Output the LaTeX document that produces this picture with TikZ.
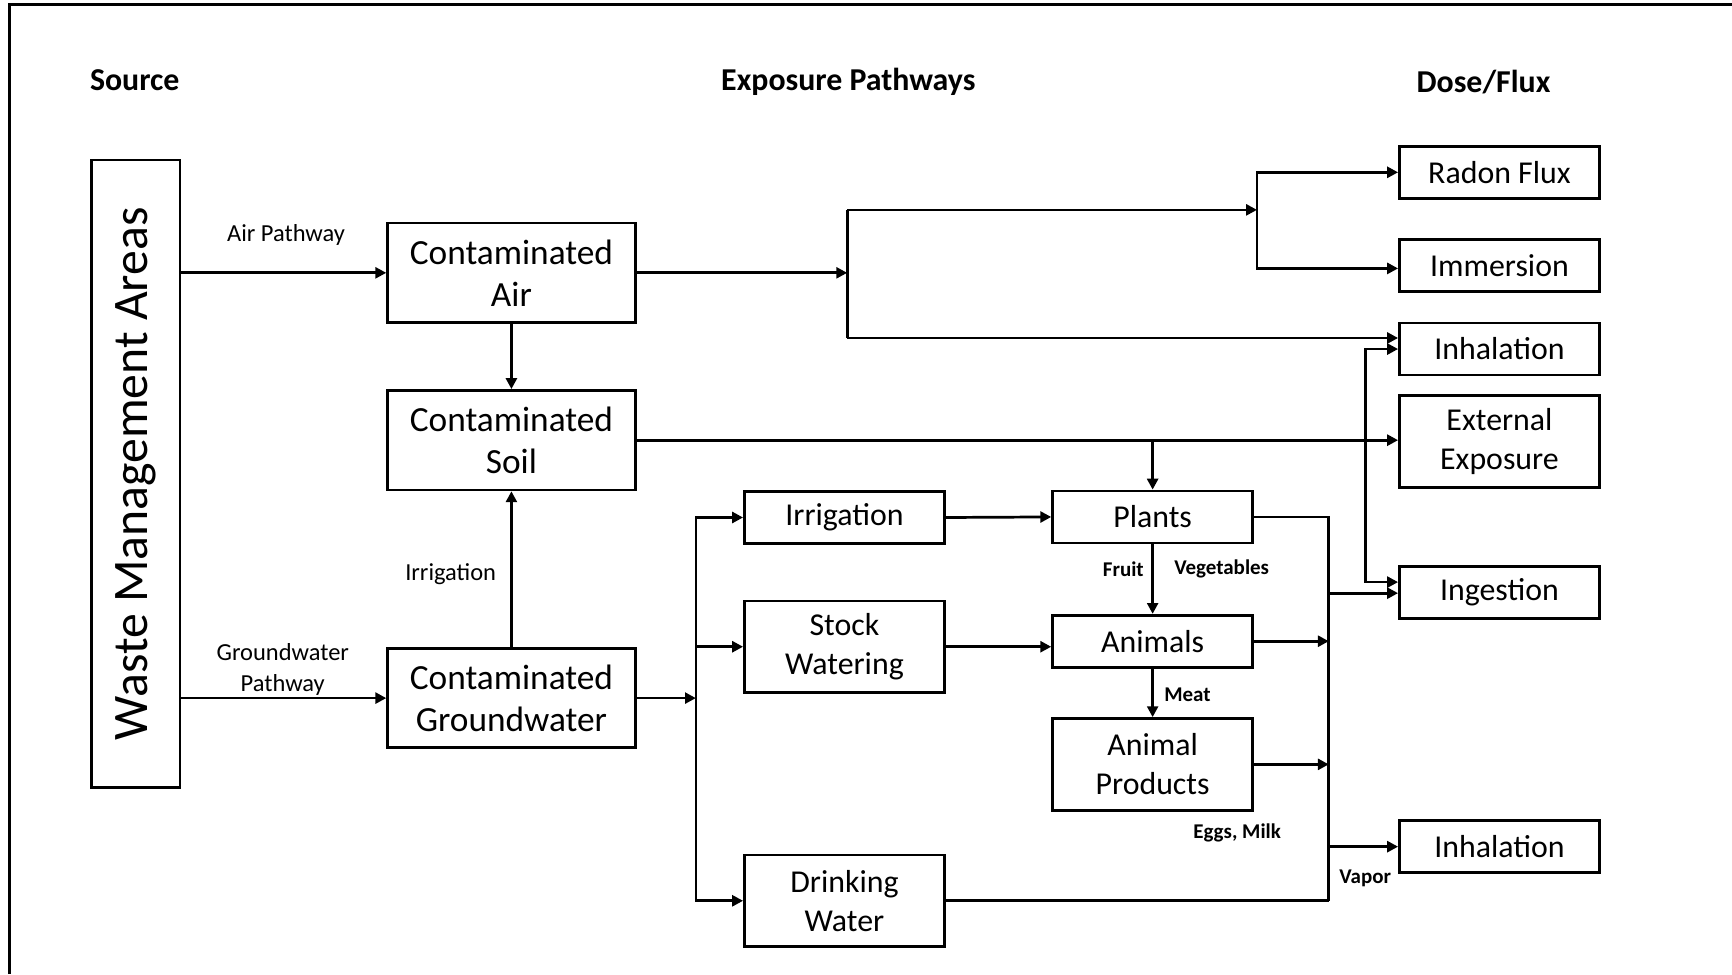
\documentclass[tikz,border=0pt]{standalone}
\usepackage{fontspec}
\setmainfont{Carlito}
\usetikzlibrary{arrows.meta}
\begin{document}
\begin{tikzpicture}[x=0.01cm,y=-0.01cm,
  box/.style={draw,line width=0.7pt,minimum width=1.81cm,minimum height=0.47cm,inner sep=1pt,align=center,font=\fontsize{8.2}{10}\selectfont},
  tallbox/.style={box,minimum height=0.83cm},
  cbox/.style={box,minimum width=2.24cm,minimum height=0.9cm,font=\fontsize{9.1}{10.8}\selectfont},
  head/.style={font=\fontsize{8.2}{10}\selectfont\bfseries},
  lbl/.style={font=\fontsize{6.3}{7.8}\selectfont,align=center,inner sep=0pt},
  blbl/.style={font=\fontsize{5.4}{6.5}\selectfont\bfseries,inner sep=0pt},
  arr/.style={line width=0.7pt,-{Triangle[length=2.8pt,width=2.8pt]}},
  ln/.style={line width=0.7pt}]
\useasboundingbox (0,0) rectangle (1568,882);
\draw[line width=0.8pt] (9,882) -- (9,4) -- (1568,4);
\node[head] (hsrc) at (122,73) {Source};
\node[head] (hpath) at (768,74) {Exposure Pathways};
\node[head] (hdose) at (1343,74) {Dose/Flux};
\node[draw,line width=0.7pt,minimum width=0.8cm,minimum height=5.68cm,inner sep=0pt,font=\fontsize{12.8}{14}\selectfont] (wma) at (123,429) {\rotatebox{90}{Waste Management Areas}};
\node[cbox] (air) at (463,247) {Contaminated\\Air};
\node[cbox] (soil) at (463,398.5) {Contaminated\\Soil};
\node[cbox] (gw) at (463,632) {Contaminated\\Groundwater};
\node[box] (irr) at (764.5,468.5) {Irrigation};
\node[tallbox] (stock) at (764.5,585.5) {Stock\\Watering};
\node[tallbox] (drink) at (764.5,815.5) {Drinking\\Water};
\node[box] (plants) at (1043.5,468) {Plants};
\node[box] (animals) at (1043.5,580.5) {Animals};
\node[tallbox] (prod) at (1043.5,692) {Animal\\Products};
\node[box] (radon) at (1357.5,156) {Radon Flux};
\node[box] (imm) at (1357.5,240.5) {Immersion};
\node[box] (inhal) at (1357.5,316) {Inhalation};
\node[tallbox] (ext) at (1357.5,399.5) {External\\Exposure};
\node[box] (ingest) at (1357.5,536.5) {Ingestion};
\node[box] (inhalb) at (1357.5,766.5) {Inhalation};
\coordinate (ja) at (767,247);
\coordinate (jat) at (767,190);
\coordinate (jab) at (767,306);
\coordinate (jr) at (1138,190);
\coordinate (js) at (1236,399);
\coordinate (jg) at (630,632);
\coordinate (jp) at (1203,537);
\coordinate (jd) at (1203,815.5);
\draw[arr] (wma.east |- air.west) -- (air.west);
\node[lbl] (lair) at (259,213) {Air Pathway};
\draw[arr] (wma.east |- gw.west) -- (gw.west);
\node[lbl] (lgw) at (256,606) {Groundwater\\Pathway};
\draw[arr] (air.south) -- (soil.north);
\draw[arr] (gw.north) -- (soil.south);
\node[lbl] (lirr) at (408,520) {Irrigation};
\draw[arr] (air.east) -- (ja);
\draw[ln] (jat) -- (jab);
\draw[arr] (jat) -- (jr);
\draw[arr] (jr) |- (radon.west);
\draw[arr] (jr) |- ([yshift=-0.025cm]imm.west);
\draw[arr] (jab) -- (jab -| inhal.west);
\draw[arr] (soil.east) -- (soil.east -| ext.west);
\draw[arr] (plants.north |- soil.east) -- (plants.north);
\draw[arr] (js) |- (inhal.west);
\draw[arr] (js) |- ([yshift=0.095cm]ingest.west);
\draw[arr] (gw.east) -- (jg);
\draw[arr] (jg) |- (irr.west);
\draw[arr] (jg) |- (stock.west);
\draw[arr] (jg) |- (drink.west);
\draw[arr] (irr.east) -- (plants.west);
\draw[arr] (stock.east) -- (stock.east -| animals.west);
\draw[arr] (plants.south) -- (animals.north);
\node[blbl] (lfruit) at (1017,515) {Fruit};
\node[blbl] (lveg) at (1106,515) {Vegetables};
\draw[arr] (animals.south) -- (prod.north);
\node[blbl] (lmeat) at (1075,629) {Meat};
\draw[arr] (plants.east) -| (jp) -- (jp -| ingest.west);
\draw[ln] (jp) -- (jd);
\draw[arr] (animals.east) -- (animals.east -| jp);
\draw[arr] (prod.east) -- (prod.east -| jp);
\draw[ln] (drink.east) -- (jd);
\node[blbl] (legg) at (1120,754) {Eggs, Milk};
\draw[arr] (jp |- inhalb.west) -- (inhalb.west);
\node[blbl] (lvap) at (1236,795) {Vapor};
\end{tikzpicture}
\end{document}
